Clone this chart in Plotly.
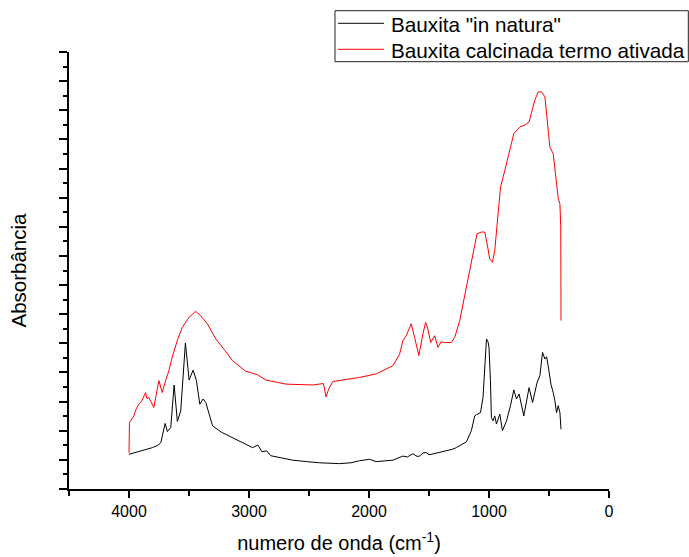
import plotly.graph_objects as go

# Bauxita "in natura" (black)
natura_wn = [4000, 3900, 3805, 3760, 3735, 3699, 3680, 3652, 3624, 3597, 3569, 3530, 3499, 3466,
             3438, 3410, 3382, 3360, 3304, 3230, 3137, 3050, 2970, 2926, 2892, 2853, 2817, 2720,
             2636, 2520, 2413, 2246, 2150, 2079, 1996, 1940, 1870, 1801, 1718, 1680, 1634, 1600,
             1578, 1550, 1523, 1500, 1481, 1384, 1300, 1272, 1188, 1147, 1119, 1105, 1071, 1050,
             1030, 1021, 1008, 1000, 988, 980, 966, 952, 938, 910, 888, 854, 821, 793, 771, 749,
             710, 666, 637, 599, 576, 554, 534, 520, 507, 484, 465, 451, 437, 423, 409, 400]
natura_abs = [1.19, 1.30, 1.42, 1.50, 1.59, 2.25, 1.97, 2.11, 3.57, 2.32, 2.68, 5.01, 3.74, 4.08,
              3.72, 2.91, 3.09, 2.97, 2.17, 1.95, 1.76, 1.58, 1.42, 1.51, 1.28, 1.31, 1.14, 1.06,
              0.99, 0.94, 0.90, 0.87, 0.90, 0.97, 1.02, 0.94, 0.96, 0.99, 1.13, 1.10, 1.21, 1.12,
              1.13, 1.24, 1.25, 1.18, 1.19, 1.28, 1.37, 1.42, 1.62, 2.00, 2.51, 2.55, 2.62, 3.14,
              4.80, 5.15, 5.05, 4.86, 3.72, 2.45, 2.34, 2.51, 2.23, 2.57, 2.00, 2.34, 2.86, 3.40, 3.09, 3.26,
              2.51, 3.48, 2.97, 3.66, 3.89, 4.69, 4.46, 4.54, 4.23, 3.60, 3.31, 3.03, 2.62, 2.86, 2.62, 2.05]

# Bauxita calcinada termo ativada (red)
calc_wn = [4000, 3996, 3960, 3940, 3918, 3890, 3862, 3850, 3835, 3815, 3793, 3751, 3723, 3695,
           3668, 3640, 3598, 3556, 3500, 3445, 3403, 3347, 3277, 3200, 3137, 3026, 2928, 2859,
           2692, 2469, 2380, 2358, 2336, 2302, 2200, 2079, 1940, 1856, 1801, 1745, 1718, 1690,
           1648, 1620, 1584, 1551, 1528, 1509, 1486, 1453, 1425, 1400, 1370, 1314, 1286, 1244,
           1188, 1133, 1100, 1063, 1035, 1016, 994, 971, 952, 924, 904, 868, 827, 793, 743, 701,
           666, 646, 618, 590, 562, 534, 520, 493, 465, 443, 423, 409, 402, 400]
calc_abs = [1.25, 2.28, 2.51, 2.75, 2.91, 3.05, 3.31, 3.10, 3.14, 3.00, 2.80, 3.72, 3.31, 3.72,
            4.06, 4.52, 5.09, 5.55, 5.89, 6.10, 5.95, 5.67, 5.15, 4.75, 4.40, 4.04, 3.92, 3.74,
            3.60, 3.57, 3.62, 3.16, 3.43, 3.69, 3.75, 3.83, 3.95, 4.12, 4.23, 4.63, 5.09, 5.26,
            5.67, 5.20, 4.58, 5.32, 5.72, 5.49, 5.03, 5.26, 4.86, 5.05, 5.03, 5.03, 5.20, 5.78,
            6.92, 7.96, 8.76, 8.82, 8.82, 8.42, 7.90, 7.78, 8.19, 9.45, 10.36, 10.94, 11.63, 12.20, 12.43, 12.49,
            12.60, 12.89, 13.35, 13.63, 13.63, 13.46, 12.77, 11.74, 11.51, 10.71, 9.97, 9.79, 8.99, 5.78]

series_names = ['Bauxita "in natura"', 'Bauxita calcinada termo ativada']
series_colors = ["black", "#ff0000"]
x_tick_vals = [4000, 3000, 2000, 1000, 0]
x_tick_text = ["4000", "3000", "2000", "1000", "0"]

FONT = "Liberation Sans, Arial, sans-serif"

fig = go.Figure()
fig.add_trace(go.Scatter(x=natura_wn, y=natura_abs, mode="lines", name=series_names[0],
                         line=dict(color=series_colors[0], width=1), showlegend=False))
fig.add_trace(go.Scatter(x=calc_wn, y=calc_abs, mode="lines", name=series_names[1],
                         line=dict(color=series_colors[1], width=1), showlegend=False))

# Boxed legend drawn in paper coordinates (Origin-style, above the plot's top-right)
legend_box = dict(x0=0.4926, x1=1.1469, y0=0.9778, y1=1.0945)
legend_rows_y = [1.0657, 1.0062]
fig.add_shape(type="rect", xref="paper", yref="paper", **legend_box,
              line=dict(color="#222", width=1), fillcolor="white", layer="above")
for name, color, ry in zip(series_names, series_colors, legend_rows_y):
    fig.add_shape(type="line", xref="paper", yref="paper", x0=0.4981, x1=0.5833, y0=ry, y1=ry,
                  line=dict(color=color, width=1), layer="above")
    fig.add_annotation(text=name, xref="paper", yref="paper", x=0.5926, y=ry - 0.002,
                       xanchor="left", yanchor="middle", showarrow=False,
                       font=dict(size=20.7, family=FONT, color="black"))

fig.update_layout(
    width=689, height=557,
    margin=dict(l=69, r=80, t=52, b=68, autoexpand=False),
    plot_bgcolor="white", paper_bgcolor="white",
    font=dict(family=FONT, color="black"),
    showlegend=False,
    xaxis=dict(range=[4500, 0], tickvals=x_tick_vals, ticktext=x_tick_text,
               ticks="outside", ticklen=7, tickwidth=1.5, tickcolor="black",
               showline=True, linecolor="black", linewidth=1.5,
               showgrid=False, zeroline=False, automargin=False,
               tickfont=dict(size=16, family=FONT),
               minor=dict(dtick=500, tick0=0, ticks="outside", ticklen=5, tickcolor="black", showgrid=False),
               title=dict(text="numero de onda (cm<sup>-1</sup>)", font=dict(size=20, family=FONT), standoff=17)),
    yaxis=dict(range=[0, 15], dtick=1, tick0=0, showticklabels=False,
               ticks="outside", ticklen=8, tickwidth=1.5, tickcolor="black",
               showline=True, linecolor="black", linewidth=1.5,
               showgrid=False, zeroline=False, automargin=False,
               minor=dict(dtick=0.5, tick0=0, ticks="outside", ticklen=4, tickcolor="black", showgrid=False),
               title=dict(text="Absorbância", font=dict(size=20.5, family=FONT), standoff=27)),
)

# remove the default 8px page margin so the 689x557 figure fills the window exactly
fig.write_html("out.html", config={"displayModeBar": False},
               post_script="document.body.style.margin='0';document.body.style.overflow='hidden';")
